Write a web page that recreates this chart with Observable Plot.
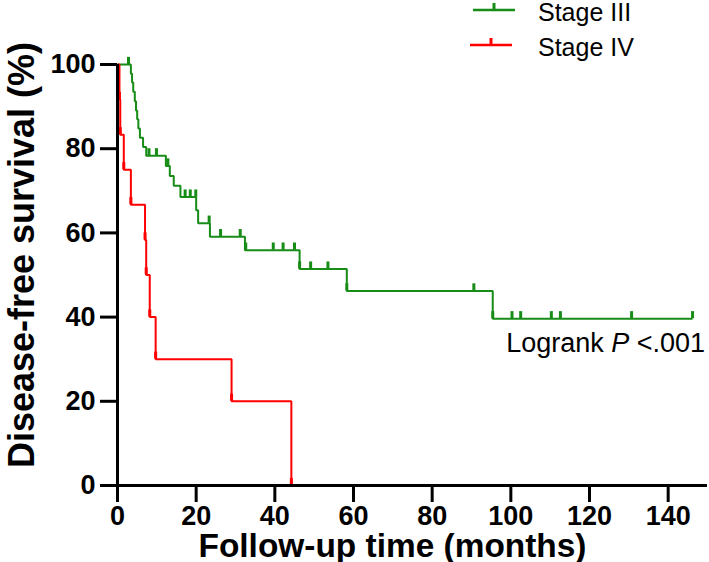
<!DOCTYPE html>
<html><head><meta charset="utf-8">
<script src="https://cdn.jsdelivr.net/npm/d3@7"></script>
<script src="https://cdn.jsdelivr.net/npm/@observablehq/plot@0.6"></script>
<style>
html,body{margin:0;padding:0;background:#fff;}
#wrap{position:relative;width:709px;height:562px;font-family:"Liberation Sans",Arial,sans-serif;}
#legend{position:absolute;left:0;top:0;pointer-events:none;}
</style></head><body><div id="wrap"></div>
<script>
// ---- data ----
const groups = ["Stage III", "Stage IV"];
const colors = ["#178c17", "#ff0000"];

// Kaplan–Meier steps: time (months) and survival (%) after each step
const stage3Time = [0, 3.4, 3.7, 4.0, 4.4, 4.7, 5.0, 5.3, 5.7, 6.5, 7.3, 12.3, 13.3, 14.3, 16.0, 20.0, 20.5, 23.5, 32.4, 46.3, 58.3, 95.4, 146.2];
const stage3Surv = [100, 97.8, 95.7, 93.5, 91.3, 89.1, 87.0, 84.8, 82.6, 80.4, 78.3, 75.9, 73.5, 71.2, 68.5, 65.4, 62.3, 59.1, 55.9, 51.4, 46.2, 39.6, 39.6];

const stage4Time = [0, 0.5, 0.7, 1.6, 3.4, 7.0, 7.3, 8.2, 9.7, 29.0, 44.2];
const stage4Surv = [100, 91.7, 83.3, 75.0, 66.7, 58.3, 50.0, 40.0, 30.0, 20.0, 0];

// censored observations
const stage3CensTime = [2.8, 8.0, 9.9, 12.8, 17.2, 18.5, 19.9, 23.3, 26.2, 31.2, 32.6, 39.6, 42.1, 45.0, 46.3, 49.1, 53.5, 58.3, 90.6, 95.4, 100.3, 102.5, 110.3, 112.6, 130.7, 146.2];
const stage3CensSurv = [100, 78.3, 78.3, 75.9, 68.5, 68.5, 68.5, 62.3, 59.1, 59.1, 55.9, 55.9, 55.9, 55.9, 51.4, 51.4, 51.4, 46.2, 46.2, 39.6, 39.6, 39.6, 39.6, 39.6, 39.6, 39.6];
const stage4CensTime = [0.5, 0.7, 1.6, 3.4, 7.0, 7.3, 8.2, 9.7, 29.0, 44.2];
const stage4CensSurv = [91.7, 83.3, 75.0, 66.7, 58.3, 50.0, 40.0, 30.0, 20.0, 0];

const xTicks = [0, 20, 40, 60, 80, 100, 120, 140];
const yTicks = [0, 20, 40, 60, 80, 100];
const xTitle = "Follow-up time (months)";
const yTitle = "Disease-free survival (%)";
const annotation = "Logrank P <.001";
const annotationAt = {t: 149.4, s: 31.6};

// ---- build tables ----
const steps = [
  ...stage3Time.map((t, i) => ({group: groups[0], t, s: stage3Surv[i]})),
  ...stage4Time.map((t, i) => ({group: groups[1], t, s: stage4Surv[i]}))
];
const censors = [
  ...stage3CensTime.map((t, i) => ({group: groups[0], t, s: stage3CensSurv[i]})),
  ...stage4CensTime.map((t, i) => ({group: groups[1], t, s: stage4CensSurv[i]}))
];

const font = "Liberation Sans, Arial, Helvetica, sans-serif";

const chart = Plot.plot({
  width: 709, height: 562,
  marginLeft: 117, marginRight: 2, marginTop: 64, marginBottom: 77,
  style: {fontFamily: font, background: "#fff", overflow: "visible", color: "#000"},
  x: {domain: [0, 150]},
  y: {domain: [0, 100]},
  color: {domain: groups, range: colors},
  marks: [
    Plot.line(steps, {x: "t", y: "s", z: "group", stroke: "group", curve: "step-after", strokeWidth: 2, strokeLinecap: "butt", strokeLinejoin: "miter"}),
    Plot.ruleX(censors, {x: "t", y1: "s", y2: d => d.s + 1.7, stroke: "group", strokeWidth: 3}),
    Plot.ruleY([0], {stroke: "#000", strokeWidth: 3}),
    Plot.ruleX([0], {stroke: "#000", strokeWidth: 3}),
    Plot.axisX({ticks: xTicks, tickSize: 17, tickPadding: 3, strokeWidth: 3, fontSize: 27, fontWeight: "bold", label: null}),
    Plot.axisY({ticks: yTicks, tickSize: 17, tickPadding: 5, strokeWidth: 3, fontSize: 27, fontWeight: "bold", label: null}),
    Plot.text([xTitle], {frameAnchor: "bottom", lineAnchor: "middle", textAnchor: "middle", dx: -20, dy: 61, fontSize: 33, fontWeight: "bold"}),
    Plot.text([yTitle], {frameAnchor: "left", textAnchor: "middle", lineAnchor: "middle", dx: -95, dy: -20, rotate: -90, fontSize: 36, fontWeight: "bold"}),
    Plot.text([annotation], {x: annotationAt.t, y: annotationAt.s, textAnchor: "end", lineAnchor: "bottom", fontSize: 27})
  ]
});
document.getElementById("wrap").appendChild(chart);

const texts = d3.select(chart).selectAll("text");
// italic P in annotation
texts.filter(function() { return this.textContent === annotation; })
  .each(function() {
    const t = d3.select(this);
    t.text(null);
    t.append("tspan").text("Logrank ");
    t.append("tspan").attr("font-style", "italic").text("P");
    t.append("tspan").text(" <.001");
  });
// slightly condensed x title, as in the reference
texts.filter(function() { return this.textContent === xTitle; })
  .attr("textLength", 388).attr("lengthAdjust", "spacingAndGlyphs");

// legend overlay
const lg = d3.select("#wrap").append("svg").attr("id", "legend").attr("width", 709).attr("height", 70);
const lgY = [10, 45];
const lgX = [[473, 515], [470, 512]];
groups.forEach((g, i) => {
  lg.append("line").attr("x1", lgX[i][0]).attr("x2", lgX[i][1]).attr("y1", lgY[i]).attr("y2", lgY[i])
    .attr("stroke", colors[i]).attr("stroke-width", 2.5);
  const mx = (lgX[i][0] + lgX[i][1]) / 2;
  lg.append("line").attr("x1", mx).attr("x2", mx).attr("y1", lgY[i] - 7).attr("y2", lgY[i])
    .attr("stroke", colors[i]).attr("stroke-width", 3);
  lg.append("text").attr("x", 538).attr("y", lgY[i] + 10.5)
    .attr("font-family", font).attr("font-size", 25).attr("fill", "#000").text(g);
});
</script></body></html>
